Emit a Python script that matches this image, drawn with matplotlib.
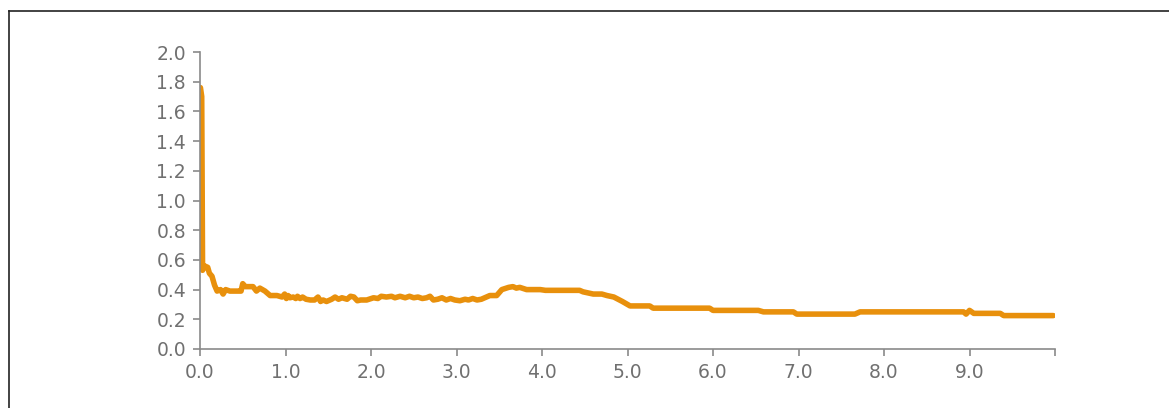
import matplotlib.pyplot as plt
import numpy as np

# values
x_vals = [0.005, 0.02, 0.03, 0.05, 0.09, 0.11, 0.14, 0.17, 0.20, 0.24, 0.27, 0.30,
          0.35, 0.40, 0.45, 0.48, 0.50, 0.53, 0.62, 0.66, 0.70, 0.76, 0.82, 0.90,
          0.96, 0.99, 1.01, 1.03, 1.05, 1.09, 1.12, 1.14, 1.17, 1.20, 1.24, 1.29,
          1.34, 1.38, 1.41, 1.44, 1.48, 1.54, 1.58, 1.62, 1.66, 1.72, 1.76, 1.80,
          1.84, 1.88, 1.95, 2.03, 2.08, 2.12, 2.18, 2.24, 2.28, 2.34, 2.40, 2.45,
          2.50, 2.55, 2.60, 2.65, 2.69, 2.73, 2.78, 2.83, 2.88, 2.93, 2.98, 3.04,
          3.10, 3.14, 3.19, 3.24, 3.29, 3.33, 3.39, 3.47, 3.53, 3.61, 3.66, 3.70,
          3.74, 3.82, 3.98, 4.04, 4.44, 4.48, 4.60, 4.70, 4.76, 4.84, 4.94, 5.03,
          5.26, 5.30, 5.96, 6.00, 6.53, 6.59, 6.94, 6.98, 7.66, 7.72, 8.93, 8.96,
          9.00, 9.05, 9.36, 9.40, 9.98]
y_vals = [1.76, 1.70, 0.53, 0.56, 0.55, 0.51, 0.49, 0.43, 0.39, 0.40, 0.37, 0.40,
          0.39, 0.39, 0.39, 0.39, 0.44, 0.42, 0.42, 0.39, 0.41, 0.39, 0.36, 0.36,
          0.35, 0.37, 0.34, 0.36, 0.345, 0.35, 0.34, 0.355, 0.34, 0.35, 0.335, 0.33,
          0.33, 0.35, 0.32, 0.33, 0.32, 0.335, 0.35, 0.335, 0.345, 0.335, 0.355, 0.35,
          0.325, 0.33, 0.33, 0.345, 0.34, 0.355, 0.35, 0.355, 0.345, 0.355, 0.345, 0.355,
          0.345, 0.35, 0.34, 0.345, 0.355, 0.33, 0.335, 0.345, 0.33, 0.34, 0.33, 0.325,
          0.335, 0.33, 0.34, 0.33, 0.335, 0.345, 0.36, 0.36, 0.40, 0.415, 0.42, 0.41,
          0.415, 0.40, 0.40, 0.395, 0.395, 0.385, 0.37, 0.37, 0.36, 0.35, 0.32, 0.29,
          0.29, 0.275, 0.275, 0.26, 0.26, 0.25, 0.25, 0.235, 0.235, 0.25, 0.25, 0.235,
          0.26, 0.24, 0.24, 0.225, 0.225]

x_ticks = [0, 1, 2, 3, 4, 5, 6, 7, 8, 9, 10]
x_labels = ['0.0', '1.0', '2.0', '3.0', '4.0', '5.0', '6.0', '7.0', '8.0', '9.0', '']
y_ticks = [0.0, 0.2, 0.4, 0.6, 0.8, 1.0, 1.2, 1.4, 1.6, 1.8, 2.0]

grey = '#707070'
axis_grey = '#8a8a8a'

fig = plt.figure(figsize=(11.69, 4.08), dpi=100)
ax = fig.add_axes([200/1169, 1-349/408, 855/1169, 297/408])

ax.plot(x_vals, y_vals, color='#E8900C', linewidth=4.0,
        solid_capstyle='round', solid_joinstyle='round')

ax.set_xlim(0, 10)
ax.set_ylim(0, 2.0)
ax.set_xticks(x_ticks)
ax.set_xticklabels(x_labels)
ax.set_yticks(y_ticks)
ax.set_yticklabels(['%.1f' % v for v in y_ticks])

for s in ['top', 'right']:
    ax.spines[s].set_visible(False)
for s in ['left', 'bottom']:
    ax.spines[s].set_color(axis_grey)
    ax.spines[s].set_linewidth(1.2)

ax.tick_params(axis='both', colors=axis_grey, labelcolor=grey, labelsize=13.5,
               length=5, width=1.2, pad=5)

# frame around the figure (only top and left edges visible)
fig.add_artist(plt.Line2D([9/1169, 1], [1-11/408, 1-11/408], color='#222222', linewidth=1.2))
fig.add_artist(plt.Line2D([9/1169, 9/1169], [0, 1-11/408], color='#222222', linewidth=1.2))

fig.savefig('out.png', dpi=100)
